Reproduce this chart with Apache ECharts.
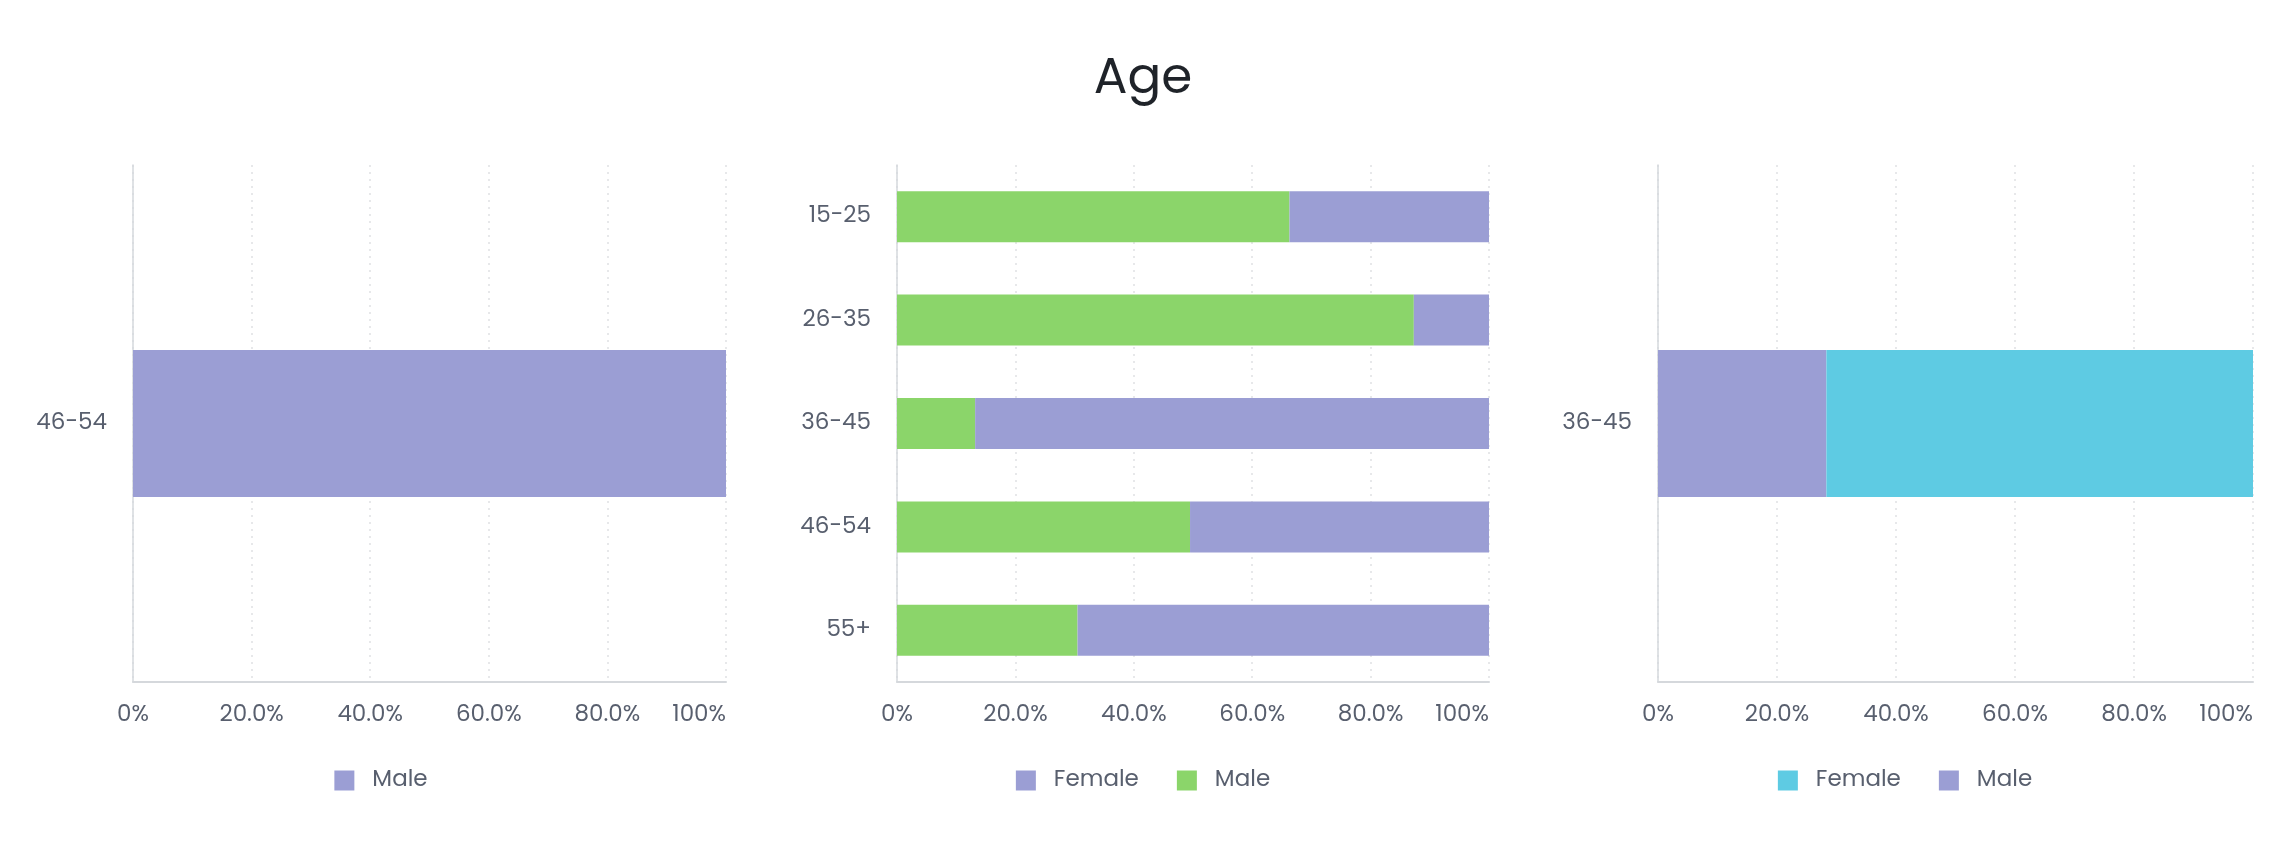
<!DOCTYPE html>
<html><head><meta charset="utf-8">
<script src="https://cdn.jsdelivr.net/npm/echarts@6/dist/echarts.min.js"></script>
<style>
html,body{margin:0;padding:0;background:#fff;}
#wrap{position:relative;width:2286px;height:856px;}
.p{position:absolute;top:0;width:762px;height:856px;}
</style></head>
<body><div id="wrap"><div id="c1" class="p" style="left:0"></div><div id="c2" class="p" style="left:762px"></div><div id="c3" class="p" style="left:1524px"></div></div>
<script>
const titleText = "Age";
const xTicks = [0, 20, 40, 60, 80, 100];

// Panel 1
const cats1 = ["46-54"];
const male1 = [100];

// Panel 2
const cats2 = ["15-25", "26-35", "36-45", "46-54", "55+"];
const male2 = [66.3, 87.3, 13.2, 49.5, 30.5];
const female2 = [33.7, 12.7, 86.8, 50.5, 69.5];

// Panel 3
const cats3 = ["36-45"];
const male3 = [28.3];
const female3 = [71.7];

const PURPLE = "#9b9ed4", GREEN = "#8bd56a", CYAN = "#5ecbe3";
const FONT = "Poppins, Inter, 'Noto Sans', sans-serif";
const TXT = "#585f6e";

function fmt(v){ if (v === 0) return "0%"; if (v === 100) return "100%"; return v.toFixed(1) + "%"; }

function base(cats, gridLeft, gridRight, legendData){
  return {
    animation: false,
    textStyle: {fontFamily: FONT},
    grid: {left: gridLeft, right: gridRight, top: 165, bottom: 174},
    legend: {
      data: legendData, bottom: 59, left: 'center',
      itemWidth: 20, itemHeight: 20, itemGap: 38, icon: 'rect',
      textStyle: {fontFamily: FONT, fontSize: 23, color: TXT, padding: [0,0,0,13]}
    },
    xAxis: {
      type: 'value', min: 0, max: 100, interval: 20,
      axisLine: {show: true, lineStyle: {color: '#d5d8dc', width: 2}},
      axisTick: {show: false},
      axisLabel: {fontFamily: FONT, fontSize: 23, color: TXT, margin: 22, formatter: fmt, alignMaxLabel: 'right'},
      splitLine: {show: true, lineStyle: {color: '#dfe1e4', type: [2, 5], width: 1.5}}
    },
    yAxis: {
      type: 'category', data: cats, inverse: true,
      axisLine: {show: true, lineStyle: {color: '#d5d8dc', width: 1.5}},
      axisTick: {show: false},
      axisLabel: {fontFamily: FONT, fontSize: 23, color: TXT, margin: 26},
      splitLine: {show: false}
    },
    series: []
  };
}

const o1 = base(cats1, 133, 36, ["Male"]);
o1.series = [{name: "Male", type: 'bar', stack: 's', data: male1, barWidth: 147, itemStyle: {color: PURPLE}}];

const o2 = base(cats2, 135, 35, ["Female", "Male"]);
o2.title = {text: titleText, left: 'center', top: 50, textStyle: {fontFamily: FONT, fontSize: 50, fontWeight: 'normal', color: '#1f2329'}};
o2.series = [
  {name: "Male", type: 'bar', stack: 's', data: male2, barWidth: 51, itemStyle: {color: GREEN}},
  {name: "Female", type: 'bar', stack: 's', data: female2, barWidth: 51, itemStyle: {color: PURPLE}}
];

const o3 = base(cats3, 134, 33, ["Female", "Male"]);
o3.series = [
  {name: "Male", type: 'bar', stack: 's', data: male3, barWidth: 147, itemStyle: {color: PURPLE}},
  {name: "Female", type: 'bar', stack: 's', data: female3, barWidth: 147, itemStyle: {color: CYAN}}
];

echarts.init(document.getElementById('c1')).setOption(o1);
echarts.init(document.getElementById('c2')).setOption(o2);
echarts.init(document.getElementById('c3')).setOption(o3);
</script></body></html>
